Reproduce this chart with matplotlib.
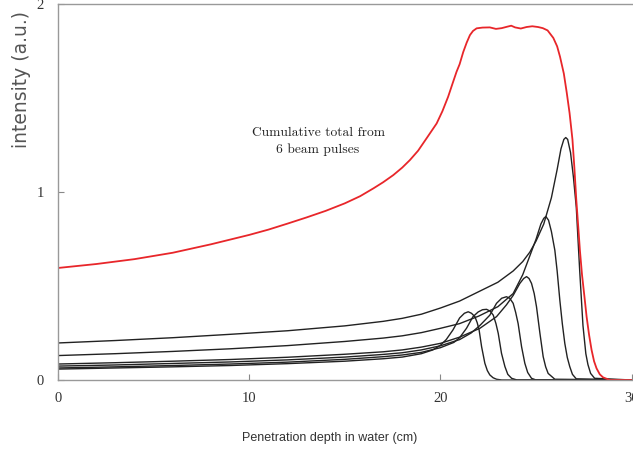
import matplotlib
matplotlib.use('Agg')
from matplotlib import pyplot as plt

# depth (cm) / intensity (a.u.), one list pair per beam pulse
x1 = [0, 3, 6, 9, 12, 15, 17, 18, 19, 19.6, 20.0, 20.3, 20.65, 21.0, 21.25, 21.45, 21.62, 21.8, 21.92, 22.02, 22.15, 22.32, 22.45, 22.58, 22.75, 22.93, 23.2, 30]
y1 = [0.058, 0.064, 0.070, 0.077, 0.087, 0.100, 0.113, 0.122, 0.14, 0.16, 0.185, 0.215, 0.266, 0.33, 0.355, 0.363, 0.355, 0.337, 0.305, 0.266, 0.177, 0.089, 0.05, 0.027, 0.012, 0.004, 0, 0]

x2 = [0, 3, 6, 9, 12, 15, 17, 18, 19, 20, 20.7, 21.0, 21.36, 21.7, 21.97, 22.2, 22.41, 22.6, 22.76, 22.9, 23.02, 23.19, 23.37, 23.52, 23.72, 24.0, 30]
y2 = [0.064, 0.070, 0.077, 0.085, 0.095, 0.110, 0.124, 0.133, 0.147, 0.172, 0.2, 0.225, 0.275, 0.337, 0.362, 0.374, 0.376, 0.366, 0.345, 0.3, 0.248, 0.142, 0.071, 0.03, 0.009, 0, 0]

x3 = [0, 3, 6, 9, 12, 15, 17, 18, 19, 20, 21, 21.6, 22.06, 22.58, 22.93, 23.2, 23.45, 23.62, 23.8, 23.93, 24.06, 24.24, 24.41, 24.56, 24.76, 25.0, 30]
y3 = [0.074, 0.080, 0.088, 0.096, 0.107, 0.122, 0.136, 0.145, 0.16, 0.182, 0.215, 0.25, 0.29, 0.345, 0.408, 0.435, 0.443, 0.435, 0.408, 0.36, 0.30, 0.177, 0.089, 0.04, 0.009, 0, 0]

x4 = [0, 3, 6, 9, 12, 15, 17, 18, 19, 20, 21, 22.06, 22.93, 23.45, 23.8, 24.15, 24.35, 24.5, 24.63, 24.76, 24.9, 25.02, 25.2, 25.37, 25.5, 25.63, 25.98, 30]
y4 = [0.085, 0.092, 0.100, 0.109, 0.121, 0.137, 0.15, 0.16, 0.175, 0.195, 0.228, 0.275, 0.337, 0.40, 0.45, 0.514, 0.54, 0.55, 0.54, 0.514, 0.46, 0.39, 0.248, 0.124, 0.07, 0.035, 0.004, 0]

x5 = [0, 3, 6, 9, 12, 15, 17, 18, 19, 20, 21, 22, 23, 23.8, 24.3, 24.67, 25.0, 25.25, 25.4, 25.51, 25.65, 25.8, 25.98, 26.1, 26.24, 26.37, 26.5, 26.63, 26.76, 26.9, 27.1, 30]
y5 = [0.130, 0.140, 0.152, 0.166, 0.183, 0.205, 0.223, 0.235, 0.252, 0.275, 0.30, 0.34, 0.39, 0.46, 0.56, 0.66, 0.75, 0.83, 0.86, 0.87, 0.85, 0.79, 0.69, 0.58, 0.425, 0.3, 0.195, 0.12, 0.071, 0.03, 0.006, 0]

x6 = [0, 3, 6, 9, 12, 15, 17, 18, 19, 20, 21, 22, 23, 23.8, 24.3, 24.67, 25.0, 25.4, 25.8, 26.1, 26.3, 26.45, 26.55, 26.65, 26.8, 26.95, 27.1, 27.28, 27.45, 27.6, 27.71, 27.85, 28.06, 30]
y6 = [0.197, 0.21, 0.225, 0.243, 0.262, 0.288, 0.312, 0.328, 0.35, 0.383, 0.42, 0.47, 0.52, 0.58, 0.63, 0.68, 0.74, 0.83, 0.97, 1.12, 1.23, 1.28, 1.29, 1.28, 1.21, 1.08, 0.92, 0.58, 0.29, 0.14, 0.082, 0.035, 0.009, 0]

# cumulative total (red)
x_total = [0, 2, 4, 6, 8, 10, 11, 12, 13, 14, 15, 15.8, 16.5, 17, 17.53, 18, 18.4, 18.83, 19.3, 19.8, 20.1, 20.4, 20.64, 20.84, 21.0, 21.19, 21.37, 21.54, 21.7, 21.89, 22.2, 22.58, 22.9, 23.2, 23.5, 23.7, 23.9, 24.2, 24.5, 24.8, 25.1, 25.35, 25.6, 25.9, 26.1, 26.25, 26.45, 26.6, 26.75, 26.9, 27.0, 27.1, 27.2, 27.29, 27.4, 27.52, 27.64, 27.77, 27.9, 28.03, 28.16, 28.33, 28.5, 28.85, 30]
y_total = [0.596, 0.617, 0.643, 0.677, 0.722, 0.772, 0.80, 0.832, 0.865, 0.90, 0.94, 0.978, 1.02, 1.052, 1.09, 1.13, 1.17, 1.22, 1.29, 1.365, 1.43, 1.507, 1.58, 1.64, 1.68, 1.745, 1.795, 1.835, 1.857, 1.871, 1.875, 1.876, 1.868, 1.872, 1.88, 1.885, 1.876, 1.87, 1.878, 1.882, 1.878, 1.872, 1.86, 1.82, 1.775, 1.72, 1.63, 1.53, 1.42, 1.28, 1.13, 0.96, 0.82, 0.69, 0.56, 0.45, 0.337, 0.24, 0.16, 0.1, 0.062, 0.03, 0.014, 0, 0]

pulses = [(x1, y1), (x2, y2), (x3, y3), (x4, y4), (x5, y5), (x6, y6)]

fig = plt.figure(figsize=(6.33, 4.54), dpi=100)
ax = fig.add_axes([0.0916, 0.163, 0.9064, 0.828])

for xs, ys in pulses:
    ax.plot(xs, ys, color='#222222', linewidth=1.0)
ax.plot(x_total, y_total, color='#e8262a', linewidth=1.3)

ax.set_xlim(0, 30)
ax.set_ylim(0, 2)
ax.set_xticks([0, 10, 20, 30])
ax.set_yticks([0, 1, 2])
ax.tick_params(direction='in', length=4, color='#888888', labelsize=10.5)
ax.tick_params(axis='x', pad=9)
ax.tick_params(axis='y', pad=10)
for lab in ax.get_xticklabels() + ax.get_yticklabels():
    lab.set_family('Liberation Serif')
    lab.set_color('#333333')
for s in ['left', 'top', 'bottom']:
    ax.spines[s].set_color('#999999')
    ax.spines[s].set_linewidth(1.0)
ax.spines['right'].set_visible(False)

ax.text(13.6, 1.27, 'Cumulative total from\n6 beam pulses', family='cmr10',
        fontsize=9.7, ha='center', va='center', linespacing=1.4, color='#222222')

fig.text(0.034, 0.824, 'intensity (a.u.)', rotation=90, ha='center', va='center',
         fontsize=13.5, color='#555555', family='DejaVu Sans')
fig.text(0.521, 0.035, 'Penetration depth in water (cm)', ha='center', va='center',
         fontsize=9, color='#333333', family='Liberation Sans')

fig.savefig('out.png', dpi=100)
